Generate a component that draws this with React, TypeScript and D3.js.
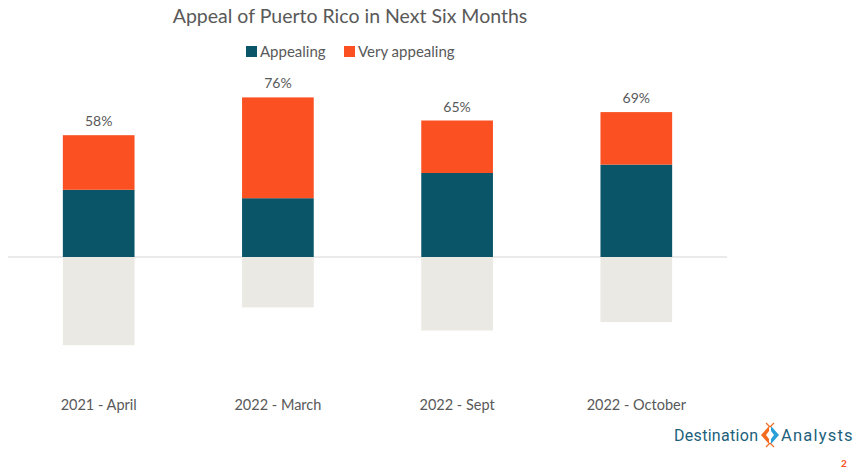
import React from 'react';
import * as d3 from 'd3';

// Values (percent)
const periods = ['2021 - April', '2022 - March', '2022 - Sept', '2022 - October'];
const appealing = [32, 28, 40, 44];
const veryAppealing = [26, 48, 25, 25];
const notAppealing = [42, 24, 35, 31];
const totals = [58, 76, 65, 69];
const seriesNames = ['Appealing', 'Very appealing'];

const W = 861;
const H = 469;
const TEAL = '#0b5569';
const ORANGE = '#fb5022';
const GREY = '#ebe9e4';
const TEXT = '#595959';
const FONT = 'Lato, "Open Sans", sans-serif';

const App: React.FC = () => {
  /* ---------- Scales ---------- */
  const x = d3.scaleBand<string>().domain(periods).range([27, 708]).paddingInner(0.6).paddingOuter(0.2);
  const y = d3.scaleLinear().domain([0, 100]).range([257, 47]);
  const color = d3.scaleOrdinal<string, string>().domain(seriesNames).range([TEAL, ORANGE]);
  const bw = x.bandwidth();

  const legendItems = [
    { name: seriesNames[0], sx: 246, tx: 260 },
    { name: seriesNames[1], sx: 344, tx: 358 },
  ];

  return (
    <svg width={W} height={H} style={{ position: 'absolute', left: 0, top: 0, background: '#fff' }}>
      {/* title */}
      <text x={350} y={23} textAnchor="middle" fontFamily={FONT} fontSize={19.5} fill={TEXT}>
        Appeal of Puerto Rico in Next Six Months
      </text>

      {/* legend */}
      {legendItems.map(it => (
        <g key={it.name}>
          <rect x={it.sx} y={46} width={11} height={11} fill={color(it.name)} />
          <text x={it.tx} y={57} fontFamily={FONT} fontSize={15} fill={TEXT}>
            {it.name}
          </text>
        </g>
      ))}

      {/* baseline */}
      <line x1={8} x2={727} y1={y(0)} y2={y(0)} stroke="#e3e3e3" strokeWidth={1.5} />

      {/* bars */}
      {periods.map((p, i) => {
        const bx = x(p)!;
        return (
          <g key={p}>
            <rect x={bx} y={y(0)} width={bw} height={y(-notAppealing[i]) - y(0)} fill={GREY} />
            <rect x={bx} y={y(appealing[i])} width={bw} height={y(0) - y(appealing[i])} fill={color(seriesNames[0])} />
            <rect
              x={bx}
              y={y(appealing[i] + veryAppealing[i])}
              width={bw}
              height={y(appealing[i]) - y(appealing[i] + veryAppealing[i])}
              fill={color(seriesNames[1])}
            />
            <text
              x={bx + bw / 2}
              y={y(totals[i]) - 9}
              textAnchor="middle"
              fontFamily={FONT}
              fontSize={14}
              fill={TEXT}
            >
              {totals[i]}%
            </text>
            <text x={bx + bw / 2} y={410} textAnchor="middle" fontFamily={FONT} fontSize={14.5} fill={TEXT}>
              {p}
            </text>
          </g>
        );
      })}

      {/* logo */}
      <text x={674} y={441} fontFamily='Roboto, sans-serif' fontSize={16} fill="#1d5f7c" letterSpacing={0.3}>
        Destination
      </text>
      <g transform="translate(770,435)">
        <path d="M -1 -9 L -9 0 L -1 9 L -1 4 L -4 0 L -1 -4 Z" fill="#f26b21" />
        <path d="M 1 -9 L 9 0 L 1 9 L 1 4 L 4 0 L 1 -4 Z" fill="#2a9fd8" />
        <path d="M -4 -12 L 0 -8 L 4 -12 M -4 12 L 0 8 L 4 12" stroke="#f26b21" strokeWidth={1.2} fill="none" />
      </g>
      <text x={781} y={441} fontFamily='Roboto, sans-serif' fontSize={16.5} fill="#1d5f7c" letterSpacing={1.2}>
        Analysts
      </text>
      <text x={844} y={467} textAnchor="middle" fontFamily={FONT} fontSize={10} fontWeight="bold" fill={ORANGE}>
        2
      </text>
    </svg>
  );
};

export default App;
